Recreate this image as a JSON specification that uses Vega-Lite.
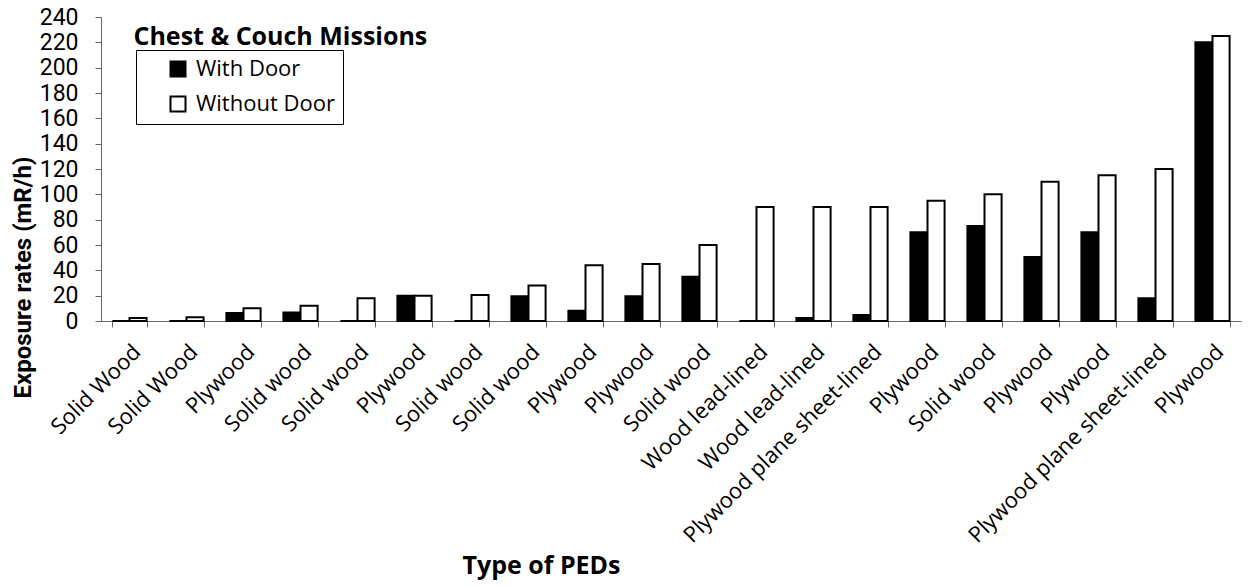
{
  "$schema": "https://vega.github.io/schema/vega-lite/v6.json",
  "width": 1140,
  "height": 304,
  "padding": {"left": 11, "top": 6, "right": 5, "bottom": 2},
  "background": "white",
  "config": {
    "font": "Roboto",
    "view": {"stroke": null},
    "axis": {"grid": false, "domainColor": "#666", "tickColor": "#666", "labelColor": "black", "titleColor": "black", "titleFontWeight": "bold"},
    "axisY": {"labelOverlap": false, "labelFont": "Roboto", "labelFontSize": 23, "tickSize": 6, "labelPadding": 17}
  },
  "data": {
    "values": [
      {"ped": "01|Solid Wood", "door": "With Door", "rate": 0},
      {"ped": "01|Solid Wood", "door": "Without Door", "rate": 2.4},
      {"ped": "02|Solid Wood", "door": "With Door", "rate": 0},
      {"ped": "02|Solid Wood", "door": "Without Door", "rate": 2.9},
      {"ped": "03|Plywood", "door": "With Door", "rate": 6.3},
      {"ped": "03|Plywood", "door": "Without Door", "rate": 10},
      {"ped": "04|Solid wood", "door": "With Door", "rate": 6.8},
      {"ped": "04|Solid wood", "door": "Without Door", "rate": 12},
      {"ped": "05|Solid wood", "door": "With Door", "rate": 0},
      {"ped": "05|Solid wood", "door": "Without Door", "rate": 18},
      {"ped": "06|Plywood", "door": "With Door", "rate": 20},
      {"ped": "06|Plywood", "door": "Without Door", "rate": 20},
      {"ped": "07|Solid wood", "door": "With Door", "rate": 0},
      {"ped": "07|Solid wood", "door": "Without Door", "rate": 20.5},
      {"ped": "08|Solid wood", "door": "With Door", "rate": 19.5},
      {"ped": "08|Solid wood", "door": "Without Door", "rate": 28},
      {"ped": "09|Plywood", "door": "With Door", "rate": 8},
      {"ped": "09|Plywood", "door": "Without Door", "rate": 44},
      {"ped": "10|Plywood", "door": "With Door", "rate": 19.5},
      {"ped": "10|Plywood", "door": "Without Door", "rate": 45},
      {"ped": "11|Solid wood", "door": "With Door", "rate": 35},
      {"ped": "11|Solid wood", "door": "Without Door", "rate": 60},
      {"ped": "12|Wood lead-lined", "door": "With Door", "rate": 0},
      {"ped": "12|Wood lead-lined", "door": "Without Door", "rate": 90},
      {"ped": "13|Wood lead-lined", "door": "With Door", "rate": 2.4},
      {"ped": "13|Wood lead-lined", "door": "Without Door", "rate": 90},
      {"ped": "14|Plywood plane sheet-lined", "door": "With Door", "rate": 4.7},
      {"ped": "14|Plywood plane sheet-lined", "door": "Without Door", "rate": 90},
      {"ped": "15|Plywood", "door": "With Door", "rate": 70},
      {"ped": "15|Plywood", "door": "Without Door", "rate": 95},
      {"ped": "16|Solid wood", "door": "With Door", "rate": 75},
      {"ped": "16|Solid wood", "door": "Without Door", "rate": 100},
      {"ped": "17|Plywood", "door": "With Door", "rate": 50.5},
      {"ped": "17|Plywood", "door": "Without Door", "rate": 110},
      {"ped": "18|Plywood", "door": "With Door", "rate": 70},
      {"ped": "18|Plywood", "door": "Without Door", "rate": 115},
      {"ped": "19|Plywood plane sheet-lined", "door": "With Door", "rate": 18},
      {"ped": "19|Plywood plane sheet-lined", "door": "Without Door", "rate": 120},
      {"ped": "20|Plywood", "door": "With Door", "rate": 220},
      {"ped": "20|Plywood", "door": "Without Door", "rate": 225}
    ]
  },
  "layer": [
    {
      "mark": {"type": "bar", "stroke": "black", "strokeWidth": 2},
      "encoding": {
        "x": {
          "field": "ped", "type": "nominal", "sort": null,
          "scale": {"paddingInner": 0.4, "paddingOuter": 0.2},
          "axis": {
            "title": "Type of PEDs", "titleFont": "Open Sans", "titleFontSize": 25, "titleX": 440, "titleAlign": "center",
            "titlePadding": 32,
            "labelExpr": "split(datum.value, '|')[1]",
            "labelAngle": -45, "labelFont": "Open Sans", "labelFontSize": 22, "labelPadding": 14,
            "tickBand": "extent", "tickSize": 6, "labelLimit": 400
          }
        },
        "xOffset": {"field": "door", "type": "nominal", "scale": {"paddingInner": 0, "domain": ["With Door", "Without Door"]}},
        "y": {
          "field": "rate", "type": "quantitative",
          "scale": {"domain": [0, 240], "nice": false},
          "axis": {
            "title": "Exposure rates (mR/h)", "titleFont": "Roboto", "titleFontSize": 24, "titleY": 260, "titleAlign": "center",
            "values": [0,20,40,60,80,100,120,140,160,180,200,220,240],
            "labelOverlap": false, "titlePadding": 4
          }
        },
        "fill": {
          "field": "door", "type": "nominal",
          "scale": {"domain": ["With Door", "Without Door"], "range": ["black", "white"]},
          "legend": {
            "title": null, "orient": "none", "legendX": 35, "legendY": 33,
            "direction": "vertical",
            "strokeColor": "black", "fillColor": "white",
            "padding": 8, "symbolOffset": 23,
            "symbolType": "square", "symbolSize": 225,
            "symbolStrokeColor": "black", "symbolStrokeWidth": 2,
            "labelFontSize": 22, "labelColor": "black", "labelFont": "Open Sans",
            "rowPadding": 11, "labelOffset": 7
          }
        }
      }
    },
    {
      "data": {"values": [{"label": "Chest & Couch Missions"}]},
      "mark": {"type": "text", "align": "left", "baseline": "alphabetic", "fontSize": 25, "fontWeight": "bold", "font": "Open Sans", "color": "black", "dx": 4},
      "encoding": {
        "x": {"datum": "01|Solid Wood"},
        "y": {
          "datum": 218,
          "axis": {
            "title": "Exposure rates (mR/h)", "titleFont": "Roboto", "titleFontSize": 24, "titleY": 260, "titleAlign": "center",
            "values": [0,20,40,60,80,100,120,140,160,180,200,220,240],
            "labelOverlap": false, "titlePadding": 4
          }
        },
        "text": {"field": "label"}
      }
    }
  ]
}
